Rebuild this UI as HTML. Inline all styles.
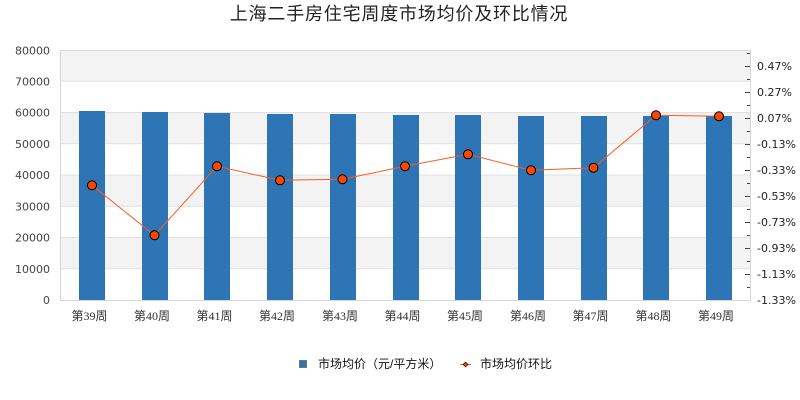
<!DOCTYPE html>
<html><head><meta charset="utf-8"><style>
html,body{margin:0;padding:0;background:#fff;}
svg{display:block;}
</style></head><body>
<svg width="800" height="400" viewBox="0 0 800 400" xmlns="http://www.w3.org/2000/svg">
<rect x="0" y="0" width="800" height="400" fill="#fff"/>
<text x="399" y="20" text-anchor="middle" font-family="'Liberation Sans','Noto Sans CJK SC',sans-serif" font-size="18" fill="#222" letter-spacing="0.8">上海二手房住宅周度市场均价及环比情况</text>
<!-- bands -->
<g fill="#f3f3f3">
<rect x="60" y="50" width="690" height="31.25"/>
<rect x="60" y="112.5" width="690" height="31.25"/>
<rect x="60" y="175" width="690" height="31.25"/>
<rect x="60" y="237.5" width="690" height="31.25"/>
</g>
<g stroke="#e1e1e1" stroke-width="1">
<line x1="60" y1="81.25" x2="750" y2="81.25"/>
<line x1="60" y1="112.5" x2="750" y2="112.5"/>
<line x1="60" y1="143.75" x2="750" y2="143.75"/>
<line x1="60" y1="175" x2="750" y2="175"/>
<line x1="60" y1="206.25" x2="750" y2="206.25"/>
<line x1="60" y1="237.5" x2="750" y2="237.5"/>
<line x1="60" y1="268.75" x2="750" y2="268.75"/>
</g>
<g stroke="#d6d6d6" stroke-width="1" fill="none">
<line x1="60" y1="50.5" x2="750" y2="50.5"/>
<line x1="60.5" y1="50" x2="60.5" y2="300"/>
<line x1="750.5" y1="50" x2="750.5" y2="300"/>
<line x1="60" y1="300.5" x2="751" y2="300.5"/>
</g>
<!-- bars -->
<g fill="#2e75b6">
<rect x="79" y="111" width="26" height="189"/>
<rect x="142" y="112" width="26" height="188"/>
<rect x="204" y="113" width="26" height="187"/>
<rect x="267" y="114" width="26" height="186"/>
<rect x="330" y="114" width="26" height="186"/>
<rect x="393" y="115" width="26" height="185"/>
<rect x="455" y="115" width="26" height="185"/>
<rect x="518" y="116" width="26" height="184"/>
<rect x="581" y="116" width="26" height="184"/>
<rect x="643" y="116" width="26" height="184"/>
<rect x="706" y="116" width="26" height="184"/>
</g>
<!-- line -->
<polyline fill="none" stroke="#ff5a22" stroke-width="1" points="92,185.3 154.5,235.3 217,166.3 280,180.3 342.5,179.3 405,166.3 468,154.3 531,170.3 593.5,167.7 656,115.3 719,116.3"/>
<g fill="#ff4500" stroke="#000" stroke-width="1">
<circle cx="92" cy="185.3" r="4.5"/>
<circle cx="154.5" cy="235.3" r="4.5"/>
<circle cx="217" cy="166.3" r="4.5"/>
<circle cx="280" cy="180.3" r="4.5"/>
<circle cx="342.5" cy="179.3" r="4.5"/>
<circle cx="405" cy="166.3" r="4.5"/>
<circle cx="468" cy="154.3" r="4.5"/>
<circle cx="531" cy="170.3" r="4.5"/>
<circle cx="593.5" cy="167.7" r="4.5"/>
<circle cx="656" cy="115.3" r="4.5"/>
<circle cx="719" cy="116.3" r="4.5"/>
</g>
<!-- left axis labels -->
<g font-family="'DejaVu Sans',sans-serif" font-size="11" fill="#444" text-anchor="end">
<text x="50" y="54.5">80000</text>
<text x="50" y="85.5">70000</text>
<text x="50" y="116.5">60000</text>
<text x="50" y="148">50000</text>
<text x="50" y="179">40000</text>
<text x="50" y="210.5">30000</text>
<text x="50" y="241.5">20000</text>
<text x="50" y="273">10000</text>
<text x="50" y="304">0</text>
</g>
<!-- right axis ticks -->
<g stroke="#444" stroke-width="1">
<line x1="745" y1="66.5" x2="750" y2="66.5"/>
<line x1="745" y1="92.5" x2="750" y2="92.5"/>
<line x1="745" y1="118.5" x2="750" y2="118.5"/>
<line x1="745" y1="144.5" x2="750" y2="144.5"/>
<line x1="745" y1="170.5" x2="750" y2="170.5"/>
<line x1="745" y1="196.5" x2="750" y2="196.5"/>
<line x1="745" y1="222.5" x2="750" y2="222.5"/>
<line x1="745" y1="248.5" x2="750" y2="248.5"/>
<line x1="745" y1="274.5" x2="750" y2="274.5"/>
<line x1="747" y1="53.5" x2="750" y2="53.5"/>
<line x1="747" y1="79.5" x2="750" y2="79.5"/>
<line x1="747" y1="105.5" x2="750" y2="105.5"/>
<line x1="747" y1="131.5" x2="750" y2="131.5"/>
<line x1="747" y1="157.5" x2="750" y2="157.5"/>
<line x1="747" y1="183.5" x2="750" y2="183.5"/>
<line x1="747" y1="209.5" x2="750" y2="209.5"/>
<line x1="747" y1="235.5" x2="750" y2="235.5"/>
<line x1="747" y1="261.5" x2="750" y2="261.5"/>
<line x1="747" y1="287.5" x2="750" y2="287.5"/>
</g>
<g font-family="'DejaVu Sans',sans-serif" font-size="11" fill="#222">
<text x="757" y="70">0.47%</text>
<text x="757" y="96">0.27%</text>
<text x="757" y="122">0.07%</text>
<text x="757" y="148">-0.13%</text>
<text x="757" y="174">-0.33%</text>
<text x="757" y="200">-0.53%</text>
<text x="757" y="226">-0.73%</text>
<text x="757" y="252">-0.93%</text>
<text x="757" y="278">-1.13%</text>
<text x="757" y="304">-1.33%</text>
</g>
<!-- x labels -->
<g font-family="'Liberation Serif','Noto Sans CJK SC',serif" font-size="12" fill="#333" text-anchor="middle">
<text x="89.5" y="320">第39周</text>
<text x="152" y="320">第40周</text>
<text x="214.5" y="320">第41周</text>
<text x="277" y="320">第42周</text>
<text x="340" y="320">第43周</text>
<text x="402.5" y="320">第44周</text>
<text x="465" y="320">第45周</text>
<text x="528" y="320">第46周</text>
<text x="590.5" y="320">第47周</text>
<text x="653.5" y="320">第48周</text>
<text x="716" y="320">第49周</text>
</g>
<!-- legend -->
<rect x="299.5" y="360.5" width="7" height="7" fill="#2e75b6" stroke="#777" stroke-width="1"/>
<text x="318" y="368" font-family="'Liberation Sans','Noto Sans CJK SC',sans-serif" font-size="12" fill="#111">市场均价（元/平方米）</text>
<line x1="460" y1="364.5" x2="471" y2="364.5" stroke="#ff5a22" stroke-width="1"/>
<path d="M465.5 362 L468 364.5 L465.5 367 L463 364.5 Z" fill="#ff4500" stroke="#000" stroke-width="0.6"/>
<text x="480" y="368" font-family="'Liberation Sans','Noto Sans CJK SC',sans-serif" font-size="12" fill="#111">市场均价环比</text>
</svg>
</body></html>
